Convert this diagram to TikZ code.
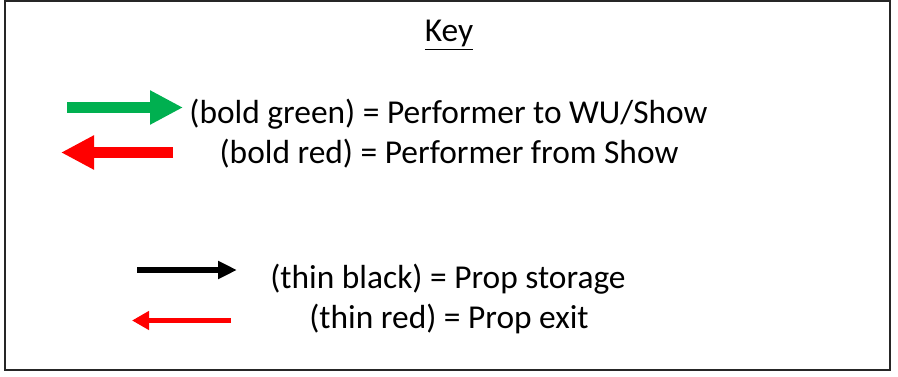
\documentclass[tikz,border=0pt]{standalone}
\usepackage{fontspec}
\setmainfont{Carlito}
\usetikzlibrary{arrows.meta}
\definecolor{keygreen}{RGB}{0,176,80}
\definecolor{keyred}{RGB}{255,0,0}
\begin{document}
\begin{tikzpicture}[x=1pt,y=-1pt,
  keytext/.style={anchor=base,inner sep=0pt,font=\fontsize{33.4}{38}\selectfont},
  boldarrow/.style={line width=11pt,-{Triangle[length=33pt,width=32pt]}},
  thinarrow/.style={line width=6pt,-{Triangle[length=19pt,width=17pt]}},
  thinnerarrow/.style={line width=5pt,-{Triangle[length=17pt,width=18pt]}}]
\useasboundingbox (0,0) rectangle (898,377);
\draw[line width=2pt,black!85] (5,1) rectangle (889.5,369.5);
\node[keytext] (key) at (449,42) {\underline{Key}};
\node[keytext] (t1) at (448.5,123.5) {(bold green) = Performer to WU/Show};
\node[keytext] (t2) at (449,164) {(bold red) = Performer from Show};
\node[keytext] (t3) at (448,288) {(thin black) = Prop storage};
\node[keytext] (t4) at (449,328) {(thin red) = Prop exit};
\coordinate (g1) at (67,107.5);
\coordinate (g2) at (183,107.5);
\coordinate (r1) at (173,152.5);
\coordinate (r2) at (61,152.5);
\coordinate (b1) at (137,270);
\coordinate (b2) at (237,270);
\coordinate (s1) at (231,320.5);
\coordinate (s2) at (132,320.5);
\draw[boldarrow,keygreen] (g1) -- (g2);
\draw[boldarrow,keyred] (r1) -- (r2);
\draw[thinarrow,black] (b1) -- (b2);
\draw[thinnerarrow,keyred] (s1) -- (s2);
\end{tikzpicture}
\end{document}
